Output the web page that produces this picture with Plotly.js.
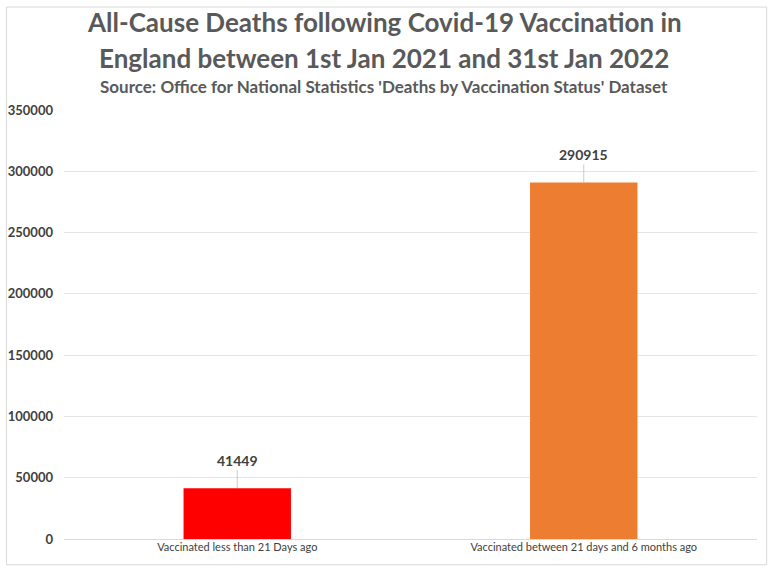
<!DOCTYPE html>
<html>
<head>
<meta charset="utf-8">
<script src="https://cdn.plot.ly/plotly-3.0.1.min.js"></script>
<style>
  html, body { margin: 0; padding: 0; background: #fff; }
  #plotDiv { width: 768px; height: 567px; }
</style>
</head>
<body>
<div id="plotDiv"></div>
<script>
var categories = ["Vaccinated less than 21 Days ago", "Vaccinated between 21 days and 6 months ago"];
var deaths = [41449, 290915];
var barColors = ["#ff0000", "#ed7d31"];
var yTicks = [0, 50000, 100000, 150000, 200000, 250000, 300000, 350000];
var titleLines = [
  "All-Cause Deaths following Covid-19 Vaccination in",
  "England between 1st Jan 2021 and 31st Jan 2022"
];
var subtitle = "Source: Office for National Statistics 'Deaths by Vaccination Status' Dataset";

var data = [
  {
    type: "bar",
    x: categories,
    y: deaths,
    marker: { color: barColors },
    hoverinfo: "x+y"
  }
];

// value labels with little leader lines
var annos = categories.map(function (c, i) {
  return {
    x: c,
    y: deaths[i],
    text: "<b>" + deaths[i] + "</b>",
    showarrow: true,
    arrowhead: 0,
    arrowwidth: 0.8,
    arrowcolor: "#bfbfbf",
    ax: 0,
    ay: -28,
    font: { family: "Lato, sans-serif", size: 14, color: "#404040" }
  };
});

// title block as paper annotations (plot area is 429px tall)
var titleY = [1.205, 1.121];
titleLines.forEach(function (t, i) {
  annos.push({
    xref: "paper", yref: "paper",
    x: 0.462, y: titleY[i],
    xanchor: "center", yanchor: "middle",
    showarrow: false,
    text: "<b>" + t + "</b>",
    font: { family: "Lato, sans-serif", size: 26, color: "#595959" }
  });
});
annos.push({
  xref: "paper", yref: "paper",
  x: 0.462, y: 1.054,
  xanchor: "center", yanchor: "middle",
  showarrow: false,
  text: "<b>" + subtitle + "</b>",
  font: { family: "Lato, sans-serif", size: 17, color: "#595959" }
});

var layout = {
  width: 768,
  height: 567,
  margin: { t: 110, b: 28, l: 64, r: 11 },
  paper_bgcolor: "#ffffff",
  plot_bgcolor: "#ffffff",
  bargap: 0.69,
  showlegend: false,
  xaxis: {
    type: "category",
    showgrid: false,
    showline: false,
    ticks: "",
    tickfont: { family: "Lato, sans-serif", size: 11, color: "#404040" }
  },
  yaxis: {
    range: [0, 350000],
    tickvals: yTicks,
    ticktext: yTicks.map(function (v) { return "<b>" + v + "</b>"; }),
    showgrid: true,
    gridcolor: "#e4e4e4",
    gridwidth: 1,
    zeroline: true,
    zerolinecolor: "#d9d9d9",
    showline: false,
    ticks: "",
    ticklabelstandoff: 10,
    tickfont: { family: "Lato, sans-serif", size: 13, color: "#404040" }
  },
  annotations: annos,
  shapes: [
    {
      type: "rect", xref: "paper", yref: "paper",
      x0: -0.083, x1: 1.014, y0: -0.06, y1: 1.24,
      line: { color: "#d9d9d9", width: 1 }
    }
  ]
};

Plotly.newPlot("plotDiv", data, layout, { displayModeBar: false });
</script>
</body>
</html>
